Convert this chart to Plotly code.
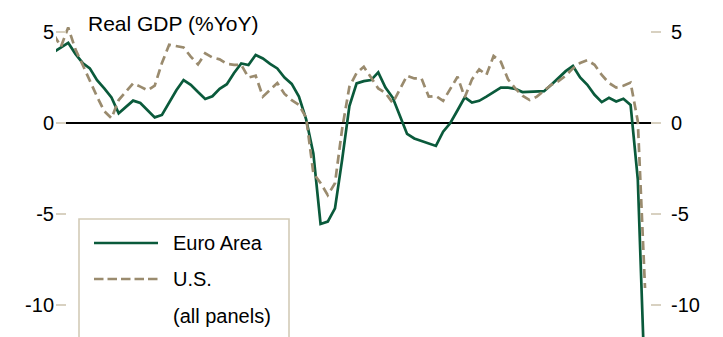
import plotly.graph_objects as go
import pandas as pd

# Quarterly periods shown (1999Q4 .. 2020Q2)
quarters = [str(p) for p in pd.period_range("1999Q4", "2020Q2", freq="Q")]

# Real GDP, % year over year
euro_area = [
    3.9,
    4.15, 4.41, 3.8, 3.3,
    3.0, 2.35, 1.9, 1.4,
    0.53, 0.9, 1.23, 1.1,
    0.7, 0.31, 0.44, 1.1,
    1.8, 2.36, 2.1, 1.7,
    1.32, 1.47, 1.88, 2.13,
    2.75, 3.27, 3.19, 3.74,
    3.55, 3.25, 3.0, 2.5,
    2.15, 1.45, 0.2, -1.67,
    -5.55, -5.42, -4.69, -2.0,
    0.93, 2.18, 2.3, 2.36,
    2.78, 1.95, 1.4, 0.4,
    -0.6, -0.85, -1.0, -1.15,
    -1.26, -0.48, 0.0, 0.7,
    1.41, 1.12, 1.22, 1.45,
    1.7, 1.94, 1.94, 1.88,
    1.7, 1.72, 1.72, 1.75,
    2.1, 2.45, 2.85, 3.13,
    2.5, 2.1, 1.55, 1.15,
    1.38, 1.18, 1.33, 0.99,
    -3.1, -14.7,
]
us = [
    4.85,
    4.2, 5.25, 4.05, 3.2,
    2.3, 1.45, 0.65, 0.26,
    1.26, 1.75, 2.18, 2.0,
    1.8, 2.05, 3.3, 4.3,
    4.22, 4.15, 3.65, 3.22,
    3.83, 3.6, 3.5, 3.25,
    3.2, 3.2, 2.5, 2.6,
    1.45, 1.85, 2.2, 1.6,
    1.25, 1.0, 0.3, -2.76,
    -3.3, -3.96, -3.31, -0.3,
    2.0, 2.75, 3.09, 2.5,
    1.9, 1.65, 1.1, 1.85,
    2.6, 2.45, 2.45, 1.45,
    1.48, 1.22, 1.9, 2.54,
    1.41, 2.4, 2.95, 2.64,
    3.68, 3.37, 2.4, 1.9,
    1.5, 1.26, 1.45, 1.8,
    2.1, 2.3, 2.6, 3.0,
    3.3, 3.45, 3.2, 2.64,
    2.2, 1.95, 2.05, 2.22,
    0.1, -9.07,
]

y_ticks = [-10, -5, 0, 5]
y_tick_text = ["-10", "-5", "0", "5"]
series_names = ["Euro Area", "U.S."]
legend_note = "(all panels)"
title_text = "Real GDP (%YoY)"

GREEN = "#0a5a3b"
TAN = "#9a8b6e"
TICK = "#d8d1c1"
BOX = "#d3cbb7"
FONT = "Liberation Sans, Arial, sans-serif"

fig = go.Figure()
fig.add_trace(go.Scatter(
    x=quarters, y=euro_area, name=series_names[0], mode="lines",
    line=dict(color=GREEN, width=2.7), showlegend=False, yaxis="y"))
fig.add_trace(go.Scatter(
    x=quarters, y=us, name=series_names[1], mode="lines",
    line=dict(color=TAN, width=2.7, dash="9px,5px"), showlegend=False,
    yaxis="y2"))

W, H = 723, 337
L, R, T, B = 56, 62, 0, 0
pw, ph = W - L - R, H - T - B

def px(x):
    return (x - L) / pw

def py(y):
    return (H - B - y) / ph

yr = [-11.76, 6.76]
axis_common = dict(
    range=yr, tickvals=y_ticks, ticktext=y_tick_text, ticks="inside",
    ticklen=10, tickwidth=1.5, tickcolor=TICK, showgrid=False,
    showline=False, tickfont=dict(family=FONT, size=20, color="black"),
)

fig.update_layout(
    width=W, height=H,
    margin=dict(l=L, r=R, t=T, b=B, pad=0),
    paper_bgcolor="white", plot_bgcolor="white",
    xaxis=dict(type="category", range=[0.3065, 84.218], visible=False),
    yaxis=dict(side="left", zeroline=True, zerolinecolor="black",
               zerolinewidth=1.6, ticklabelstandoff=1, **axis_common),
    yaxis2=dict(side="right", overlaying="y", zeroline=False,
                ticklabelstandoff=9, **axis_common),
    showlegend=False,
)

# title
fig.add_annotation(xref="paper", yref="paper", x=px(86), y=py(23),
                   xanchor="left", yanchor="middle", showarrow=False,
                   text=title_text, font=dict(family=FONT, size=21, color="black"))

# manual legend box
fig.add_shape(type="rect", xref="paper", yref="paper",
              x0=px(79), x1=px(289), y0=py(345), y1=py(219),
              line=dict(color=BOX, width=1.6), fillcolor="white", layer="above")
fig.add_shape(type="line", xref="paper", yref="paper",
              x0=px(94), x1=px(158), y0=py(243), y1=py(243),
              line=dict(color=GREEN, width=2.7), layer="above")
fig.add_shape(type="line", xref="paper", yref="paper",
              x0=px(94), x1=px(158), y0=py(279), y1=py(279),
              line=dict(color=TAN, width=2.7, dash="9.5px,4px"), layer="above")
for txt, yy in [(series_names[0], 243), (series_names[1], 279), (legend_note, 316)]:
    fig.add_annotation(xref="paper", yref="paper", x=px(171), y=py(yy),
                       xanchor="left", yanchor="middle", showarrow=False,
                       text=txt, font=dict(family=FONT, size=20, color="black"))

fig.write_html("out.html")
